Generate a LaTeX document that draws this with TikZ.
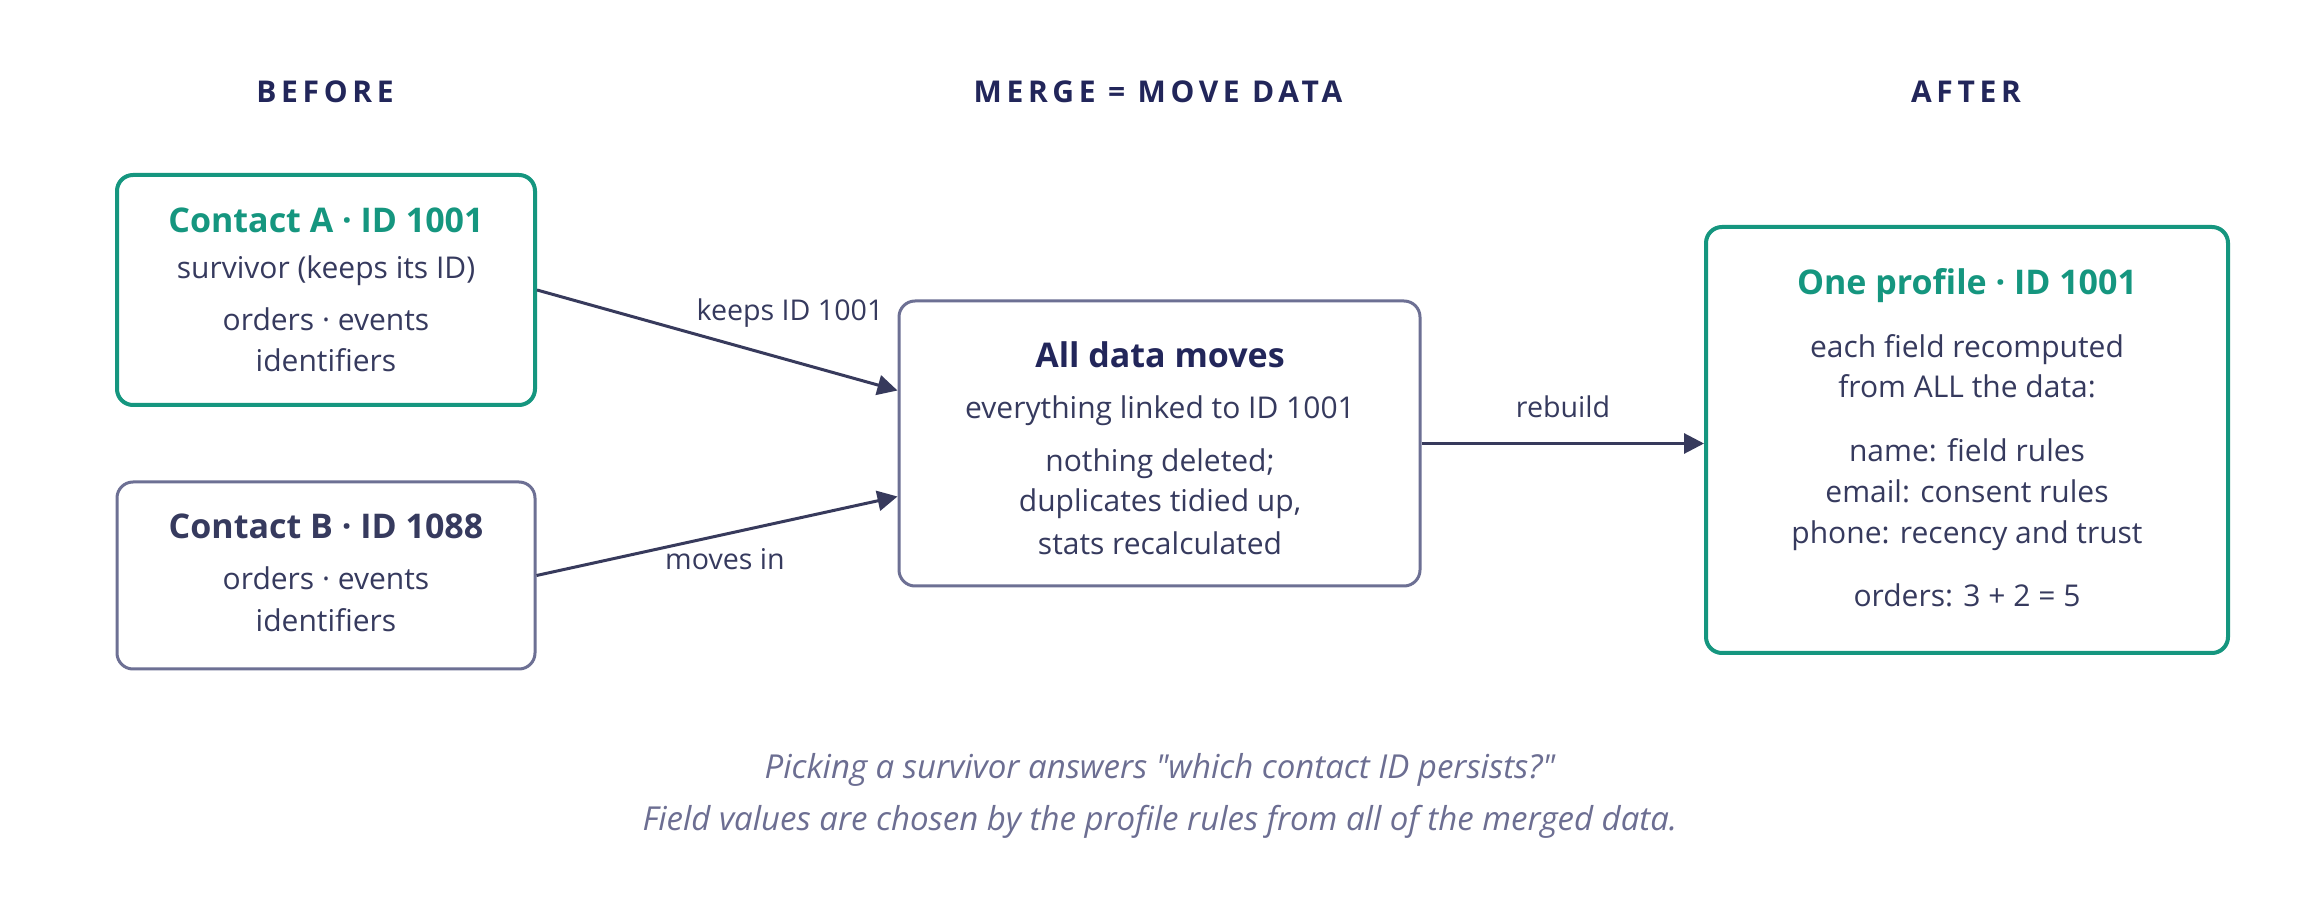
\documentclass[tikz,border=0pt]{standalone}
\usepackage{fontspec}
\setmainfont{Open Sans}
\newfontfamily\hdrfont[LetterSpace=15.5]{Open Sans}
\newfontfamily\notefont[Ligatures=TeXOff]{Open Sans}
\usetikzlibrary{arrows.meta,calc}
\definecolor{tealc}{HTML}{15967F}
\definecolor{ink}{HTML}{363A5E}
\definecolor{navy}{HTML}{22265A}
\definecolor{edgegray}{HTML}{6D7094}
\definecolor{arrowc}{HTML}{373A5C}
\definecolor{notec}{HTML}{6C6E92}
\tikzset{
  box/.style={draw, rounded corners=8pt, fill=white, inner sep=0pt},
  tealbox/.style={box, draw=tealc, line width=2pt},
  graybox/.style={box, draw=edgegray, line width=1.5pt},
  txt/.style={anchor=base, inner sep=0pt, text=ink, font=\fontsize{15pt}{17pt}\selectfont},
  ttl/.style={anchor=base, inner sep=0pt, font=\fontsize{17pt}{20pt}\selectfont\bfseries},
  hdr/.style={anchor=base, inner sep=0pt, text=navy, font=\fontsize{15pt}{18pt}\hdrfont\bfseries},
  lbl/.style={anchor=base, inner sep=0pt, text=ink, font=\fontsize{14.3pt}{16pt}\selectfont},
  note/.style={anchor=base, inner sep=0pt, text=notec, font=\fontsize{16.5pt}{19pt}\notefont\itshape},
  conn/.style={draw=arrowc, line width=1.5pt, -{Triangle[length=10pt,width=10pt]}}
}
\begin{document}
\begin{tikzpicture}[x=0.5pt,y=-0.5pt]
\useasboundingbox[fill=white] (0,0) rectangle (2320,924);

% headers
\node[hdr] (hb) at (325,103) {BEFORE};
\node[hdr] (hm) at (1158,103) {MERGE = MOVE DATA};
\node[hdr] (ha) at (1966,103) {AFTER};

% boxes
\node[tealbox, minimum width=209pt, minimum height=115pt] (A) at (326,290) {};
\node[graybox, minimum width=209pt, minimum height=93.5pt] (B) at (326,575.5) {};
\node[graybox, minimum width=260.5pt, minimum height=142.5pt] (M) at (1159.5,443.5) {};
\node[tealbox, minimum width=261pt, minimum height=213pt] (R) at (1967,440) {};

% box A text
\node[ttl, text=tealc] (a1) at (326,233) {Contact A · ID 1001};
\node[txt] (a2) at (326,279) {survivor (keeps its ID)};
\node[txt] (a3) at (326,331) {orders · events};
\node[txt] (a4) at (326,372) {identifiers};

% box B text
\node[ttl, text=ink] (b1) at (326,539) {Contact B · ID 1088};
\node[txt] (b2) at (326,590) {orders · events};
\node[txt] (b3) at (326,632) {identifiers};

% box M text
\node[ttl, text=navy] (m1) at (1160,368) {All data moves};
\node[txt] (m2) at (1160,419) {everything linked to ID 1001};
\node[txt] (m3) at (1160,472) {nothing deleted;};
\node[txt] (m4) at (1160,512) {duplicates tidied up,};
\node[txt] (m5) at (1160,555) {stats recalculated};

% box R text
\node[ttl, text=tealc] (r1) at (1967,295) {One profile · ID 1001};
\node[txt] (r2) at (1967,358) {each field recomputed};
\node[txt] (r3) at (1967,398) {from ALL the data:};
\node[txt] (r4) at (1967,462) {name: field rules};
\node[txt] (r5) at (1967,503) {email: consent rules};
\node[txt] (r6) at (1967,544) {phone: recency and trust};
\node[txt] (r7) at (1967,607) {orders: 3 + 2 = 5};

% connectors
\draw[conn] (A.east) -- ($(M.west)+(0,-53)$);
\draw[conn] (B.east) -- ($(M.west)+(0,53)$);
\draw[conn] (M.east) -- (M.east -| R.west);

% connector labels
\node[lbl] (l1) at (790,321) {keeps ID 1001};
\node[lbl] (l2) at (725,570) {moves in};
\node[lbl] (l3) at (1563,418) {rebuild};

% footer
\node[note] (n1) at (1160,779) {Picking a survivor answers "which contact ID persists?"};
\node[note] (n2) at (1160,830) {Field values are chosen by the profile rules from all of the merged data.};
\end{tikzpicture}
\end{document}
